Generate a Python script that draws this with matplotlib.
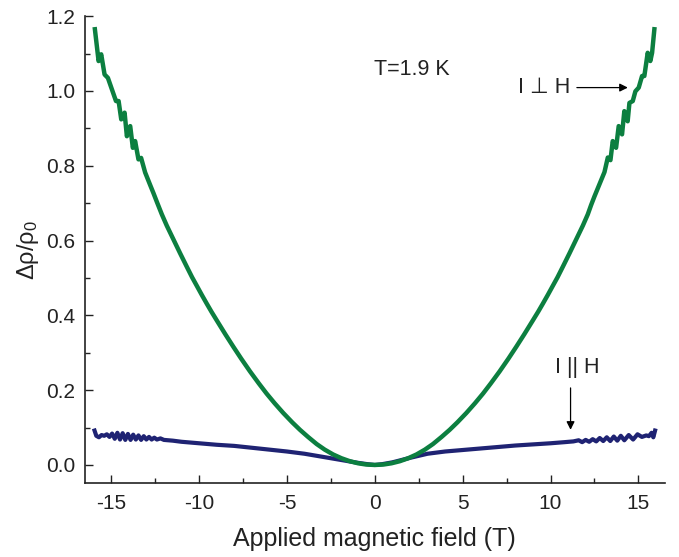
import numpy as np
import matplotlib
matplotlib.use("Agg")
import matplotlib.pyplot as plt
from matplotlib.ticker import MultipleLocator

plt.rcParams['font.family'] = ['Liberation Sans', 'DejaVu Sans']
plt.rcParams['mathtext.fontset'] = 'custom'
plt.rcParams['mathtext.rm'] = 'Liberation Sans'
plt.rcParams['mathtext.default'] = 'regular'
plt.rcParams['axes.unicode_minus'] = False

# I perpendicular to H (green)
perp_field = [-15.93, -15.72, -15.57, -15.38, -15.19, -14.96, -14.73, -14.58,
              -14.43, -14.24, -14.11, -13.92, -13.77, -13.64, -13.45, -13.30,
              -13.07, -12.78, -12.59, -12.40, -12.12, -11.84, -11.46, -11.08,
              -10.70, -10.40, -10.13, -9.85, -9.56, -9.30, -9.00, -8.50, -8.05,
              -7.60, -7.10, -6.60, -6.16, -5.70, -5.21, -4.70, -4.26, -3.80,
              -3.31, -2.85, -2.37, -1.90, -1.42, -0.95, -0.50, 0.0,
              0.50, 0.95, 1.42, 1.90, 2.37, 2.85, 3.31, 3.80, 4.26, 4.70, 5.21,
              5.70, 6.16, 6.60, 7.10, 7.60, 8.05, 8.50, 9.00, 9.30, 9.56, 9.85,
              10.13, 10.40, 10.70, 11.08, 11.46, 11.84, 12.12, 12.31, 12.50,
              12.78, 13.07, 13.26, 13.41, 13.54, 13.73, 13.88, 14.07, 14.20,
              14.39, 14.49, 14.68, 14.83, 15.02, 15.21, 15.34, 15.53, 15.68,
              15.78, 15.91]
perp_mr = [1.165, 1.080, 1.098, 1.044, 1.035, 1.004, 0.973, 0.973,
           0.924, 0.942, 0.879, 0.906, 0.848, 0.866, 0.817, 0.821,
           0.782, 0.748, 0.726, 0.703, 0.670, 0.640, 0.603, 0.566,
           0.530, 0.502, 0.479, 0.455, 0.431, 0.410, 0.387, 0.349, 0.316,
           0.284, 0.250, 0.218, 0.191, 0.165, 0.139, 0.114, 0.094, 0.075,
           0.056, 0.041, 0.028, 0.018, 0.010, 0.0045, 0.0012, 0.0,
           0.0012, 0.0045, 0.010, 0.018, 0.028, 0.041, 0.056, 0.075, 0.094, 0.114, 0.139,
           0.165, 0.191, 0.218, 0.250, 0.284, 0.316, 0.349, 0.387, 0.410, 0.431, 0.455,
           0.479, 0.502, 0.530, 0.566, 0.603, 0.640, 0.670, 0.695, 0.718,
           0.750, 0.783, 0.822, 0.815, 0.866, 0.848, 0.906, 0.884, 0.946,
           0.919, 0.968, 0.973, 0.999, 1.009, 1.040, 1.040, 1.102, 1.080,
           1.102, 1.165]

# I parallel to H (blue)
par_field = [-15.95, -15.85, -15.70, -15.55, -15.40, -15.25, -15.10, -14.95,
             -14.80, -14.65, -14.50, -14.35, -14.20, -14.05, -13.90, -13.75,
             -13.60, -13.45, -13.30, -13.15, -13.00, -12.85, -12.70, -12.55,
             -12.40, -12.20, -12.00, -11.50, -11.00, -10.00, -9.00, -8.00,
             -7.00, -6.00, -5.00, -4.00, -3.00, -2.00, -1.00, -0.40, 0.0,
             0.40, 1.00, 2.00, 3.00, 4.00, 5.00, 6.00, 7.00, 8.00, 9.00, 10.00,
             10.80, 11.30, 11.60, 11.80, 12.00, 12.20, 12.40, 12.60, 12.80,
             13.00, 13.20, 13.40, 13.60, 13.80, 14.00, 14.20, 14.45, 14.70,
             14.95, 15.20, 15.45, 15.60, 15.75, 15.85, 15.95]
par_mr = [0.092, 0.078, 0.074, 0.080, 0.078, 0.082, 0.075, 0.084,
          0.070, 0.086, 0.068, 0.085, 0.067, 0.083, 0.067, 0.081,
          0.068, 0.079, 0.067, 0.077, 0.068, 0.075, 0.068, 0.073,
          0.068, 0.071, 0.067, 0.065, 0.062, 0.058, 0.054, 0.051,
          0.046, 0.041, 0.036, 0.030, 0.022, 0.014, 0.006, 0.002, 0.0,
          0.002, 0.007, 0.019, 0.030, 0.036, 0.040, 0.044, 0.048, 0.052, 0.055, 0.058,
          0.061, 0.063, 0.066, 0.061, 0.067, 0.062, 0.069, 0.063, 0.072,
          0.064, 0.074, 0.064, 0.076, 0.065, 0.078, 0.066, 0.080, 0.068,
          0.082, 0.075, 0.079, 0.077, 0.086, 0.074, 0.092]

green = '#0c7f40'
navy = '#1f2373'
txt = '#222222'

fig = plt.figure(figsize=(6.79, 5.57), dpi=100)
ax = fig.add_axes([0.125, 0.133, 0.854, 0.838])

ax.plot(par_field, par_mr, color=navy, lw=3.0, solid_joinstyle='round')
ax.plot(perp_field, perp_mr, color=green, lw=3.2, solid_joinstyle='round')

ax.set_xlim(-16.5, 16.5)
ax.set_ylim(-0.048, 1.2)
ax.xaxis.set_major_locator(MultipleLocator(5))
ax.xaxis.set_minor_locator(MultipleLocator(2.5))
ax.yaxis.set_major_locator(MultipleLocator(0.2))
ax.yaxis.set_minor_locator(MultipleLocator(0.1))
ax.yaxis.set_major_formatter(plt.FormatStrFormatter('%.1f'))

for s in ['top', 'right']:
    ax.spines[s].set_visible(False)
for s in ['left', 'bottom']:
    ax.spines[s].set_linewidth(1.2)
    ax.spines[s].set_color(txt)

ax.tick_params(which='both', direction='in', colors=txt, labelsize=15)
ax.tick_params(which='major', length=6, width=1.0)
ax.tick_params(which='minor', length=3.5, width=1.0)
ax.tick_params(axis='x', pad=8)
ax.tick_params(axis='y', pad=7)

ax.set_xlabel('Applied magnetic field (T)', fontsize=18, color=txt, labelpad=10)
ax.set_ylabel(r'$\Delta\rho/\rho_0$', fontsize=17, color=txt, labelpad=3.5)

ax.text(2.1, 1.058, 'T=1.9 K', fontsize=15.5, color=txt, ha='center', va='center')
ax.text(11.1, 1.009, 'I \u22a5 H', fontsize=15.5, color=txt, ha='right', va='center',
        family=['Liberation Sans', 'DejaVu Sans'])
ax.annotate('', xy=(14.4, 1.009), xytext=(11.5, 1.009),
            arrowprops=dict(arrowstyle='-|>', color='black', lw=0.9,
                            mutation_scale=12, shrinkA=0, shrinkB=0))
ax.text(11.5, 0.26, 'I || H', fontsize=15.5, color=txt, ha='center', va='center')
ax.annotate('', xy=(11.14, 0.094), xytext=(11.14, 0.206),
            arrowprops=dict(arrowstyle='-|>', color='black', lw=0.9,
                            mutation_scale=12, shrinkA=0, shrinkB=0))

fig.savefig('out.png', dpi=100)
